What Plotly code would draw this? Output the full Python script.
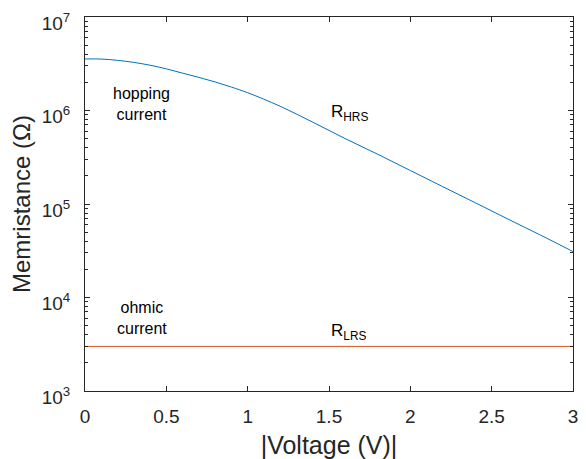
import plotly.graph_objects as go

voltage_hrs = [0, 0.1, 0.2, 0.3, 0.4, 0.5, 0.6, 0.7, 0.8, 0.9, 1.0, 1.2, 1.4,
               1.6, 1.8, 2.0, 2.2, 2.4, 2.6, 2.8, 3.0]
r_hrs = [3.56e6, 3.55e6, 3.44e6, 3.27e6, 3.05e6, 2.79e6, 2.51e6, 2.26e6, 2.02e6,
         1.78e6, 1.55e6, 1.11e6, 7.5e5, 5.0e5, 3.4e5, 2.28e5, 1.53e5, 1.03e5,
         6.9e4, 4.65e4, 3.1e4]
voltage_lrs = [0, 3.0]
r_lrs = [3.0e3, 3.0e3]

x_ticks = [0, 0.5, 1, 1.5, 2, 2.5, 3]
x_tick_labels = ["0", "0.5", "1", "1.5", "2", "2.5", "3"]
y_ticks = [1e3, 1e4, 1e5, 1e6, 1e7]
y_tick_labels = ["10<sup>3</sup>", "10<sup>4</sup>", "10<sup>5</sup>",
                 "10<sup>6</sup>", "10<sup>7</sup>"]

AX = "#262626"
FONT = "Liberation Sans, Arial, Helvetica, sans-serif"

fig = go.Figure()
fig.add_trace(go.Scatter(x=voltage_hrs, y=r_hrs, mode="lines",
                         line=dict(color="#0072BD", width=1, shape="spline", smoothing=1.0),
                         showlegend=False))
fig.add_trace(go.Scatter(x=voltage_lrs, y=r_lrs, mode="lines",
                         line=dict(color="#D95319", width=1),
                         showlegend=False))

ann_font = dict(family=FONT, size=16, color="#000000")
fig.add_annotation(x=0.35, y=6.07, text="hopping<br>current", showarrow=False,
                   font=ann_font, xref="x", yref="y")
fig.add_annotation(x=0.35, y=3.78, text="ohmic<br>current", showarrow=False,
                   font=ann_font, xref="x", yref="y")
fig.add_annotation(x=1.5, y=5.97, text="R<sub>HRS</sub>", showarrow=False,
                   xanchor="left", font=dict(family=FONT, size=17, color="#000000"),
                   xref="x", yref="y")
fig.add_annotation(x=1.5, y=3.63, text="R<sub>LRS</sub>", showarrow=False,
                   xanchor="left", font=dict(family=FONT, size=17, color="#000000"),
                   xref="x", yref="y")

fig.update_layout(
    width=578, height=451,
    margin=dict(l=77, r=13, t=9, b=68, autoexpand=False),
    paper_bgcolor="white", plot_bgcolor="white",
    font=dict(family=FONT, color=AX),
)
fig.update_xaxes(
    range=[0, 3], tickmode="array", tickvals=x_ticks, ticktext=x_tick_labels,
    ticks="inside", ticklen=5, tickwidth=1, tickcolor=AX,
    showline=True, linecolor=AX, linewidth=1, mirror="ticks",
    showgrid=False, zeroline=False,
    tickfont=dict(family=FONT, size=19, color=AX),
    ticklabelstandoff=8, ticklabeloverflow="allow",
    title=dict(text="|Voltage (V)|", font=dict(family=FONT, size=25, color=AX), standoff=18),
    automargin=False,
)
fig.update_yaxes(
    type="log", range=[3, 7], tickmode="array", tickvals=y_ticks, ticktext=y_tick_labels,
    ticks="inside", ticklen=5, tickwidth=1, tickcolor=AX,
    minor=dict(dtick="D1", ticks="inside", ticklen=3, tickcolor=AX, showgrid=False),
    showline=True, linecolor=AX, linewidth=1, mirror="ticks",
    showgrid=False, zeroline=False,
    tickfont=dict(family=FONT, size=19, color=AX),
    ticklabelstandoff=10, ticklabelshift=6, ticklabeloverflow="allow",
    title=dict(text="Memristance (Ω)", font=dict(family=FONT, size=24, color=AX), standoff=4),
    automargin=False,
)

fig.write_html("out.html")
